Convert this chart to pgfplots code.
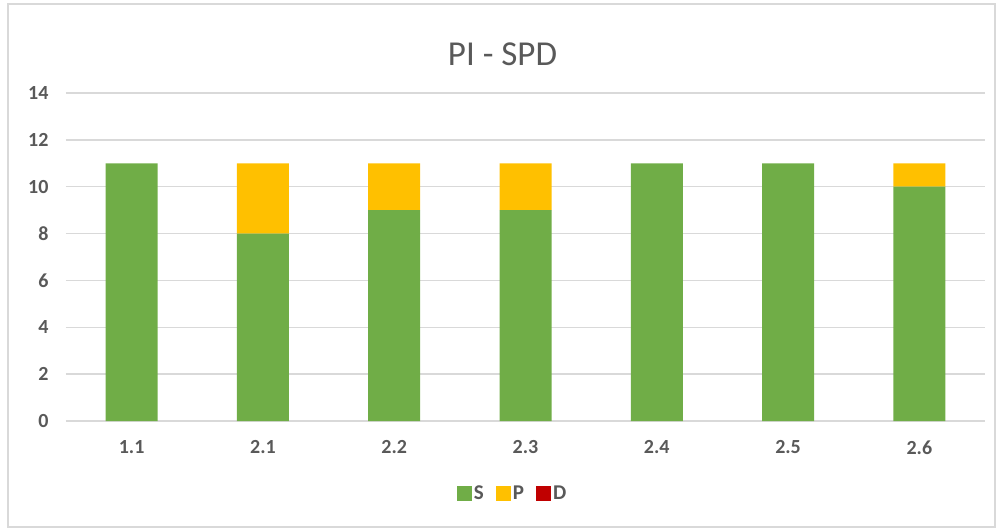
\documentclass[border=0pt]{standalone}
\usepackage{pgfplots}
\pgfplotsset{compat=1.18}
\usepackage{fontspec}
\setmainfont{Carlito}
\definecolor{cS}{HTML}{70AD47}
\definecolor{cP}{HTML}{FFC000}
\definecolor{cD}{HTML}{C00000}
\definecolor{txt}{HTML}{595959}
\definecolor{grd}{HTML}{D9D9D9}
\begin{document}
\begin{tikzpicture}
\begin{axis}[
  name=ax,
  at={(0pt,0pt)}, anchor=south west,
  scale only axis,
  width=919pt, height=328pt,
  xmin=-0.5, xmax=6.5,
  ymin=0, ymax=14,
  ytick={0,2,...,14},
  xtick=data,
  xticklabels={1.1,2.1,2.2,2.3,2.4,2.5,2.6},
  ybar stacked,
  bar width=52pt,
  axis x line=bottom, axis y line=left,
  axis line style={draw=none},
  ymajorgrids,
  grid style={grd, line width=1.5pt},
  major tick length=0pt,
  tick label style={font=\fontsize{20}{22}\selectfont\bfseries, text=txt},
  yticklabel style={xshift=-14pt},
  xticklabel style={yshift=-16pt},
  /pgf/number format/assume math mode=true,
  title={PI - SPD},
  title style={font=\fontsize{35}{38}\selectfont, text=txt, at={(axis description cs:0.475,1)}, yshift=18pt},
  legend style={draw=none, at={(axis description cs:0.486,-0.22)}, anchor=center,
    font=\fontsize{21}{23}\selectfont\bfseries, text=txt, legend columns=-1,
    /tikz/every even column/.append style={column sep=10pt}},
  legend image code/.code={\fill[#1] (0pt,-7.5pt) rectangle (15pt,7.5pt);},
]
\addplot[fill=cS, draw=none] coordinates {(0,11) (1,8) (2,9) (3,9) (4,11) (5,11) (6,10)};
\addplot[fill=cP, draw=none] coordinates {(0,0) (1,3) (2,2) (3,2) (4,0) (5,0) (6,1)};
\addplot[fill=cD, draw=none] coordinates {(0,0) (1,0) (2,0) (3,0) (4,0) (5,0) (6,0)};
\legend{S,P,D}
\end{axis}
\draw[grd, line width=1.5pt] (-58pt,-106pt) rectangle (929pt,417pt);
\useasboundingbox (-66pt,-109pt) rectangle (936pt,421pt);
\end{tikzpicture}
\end{document}
